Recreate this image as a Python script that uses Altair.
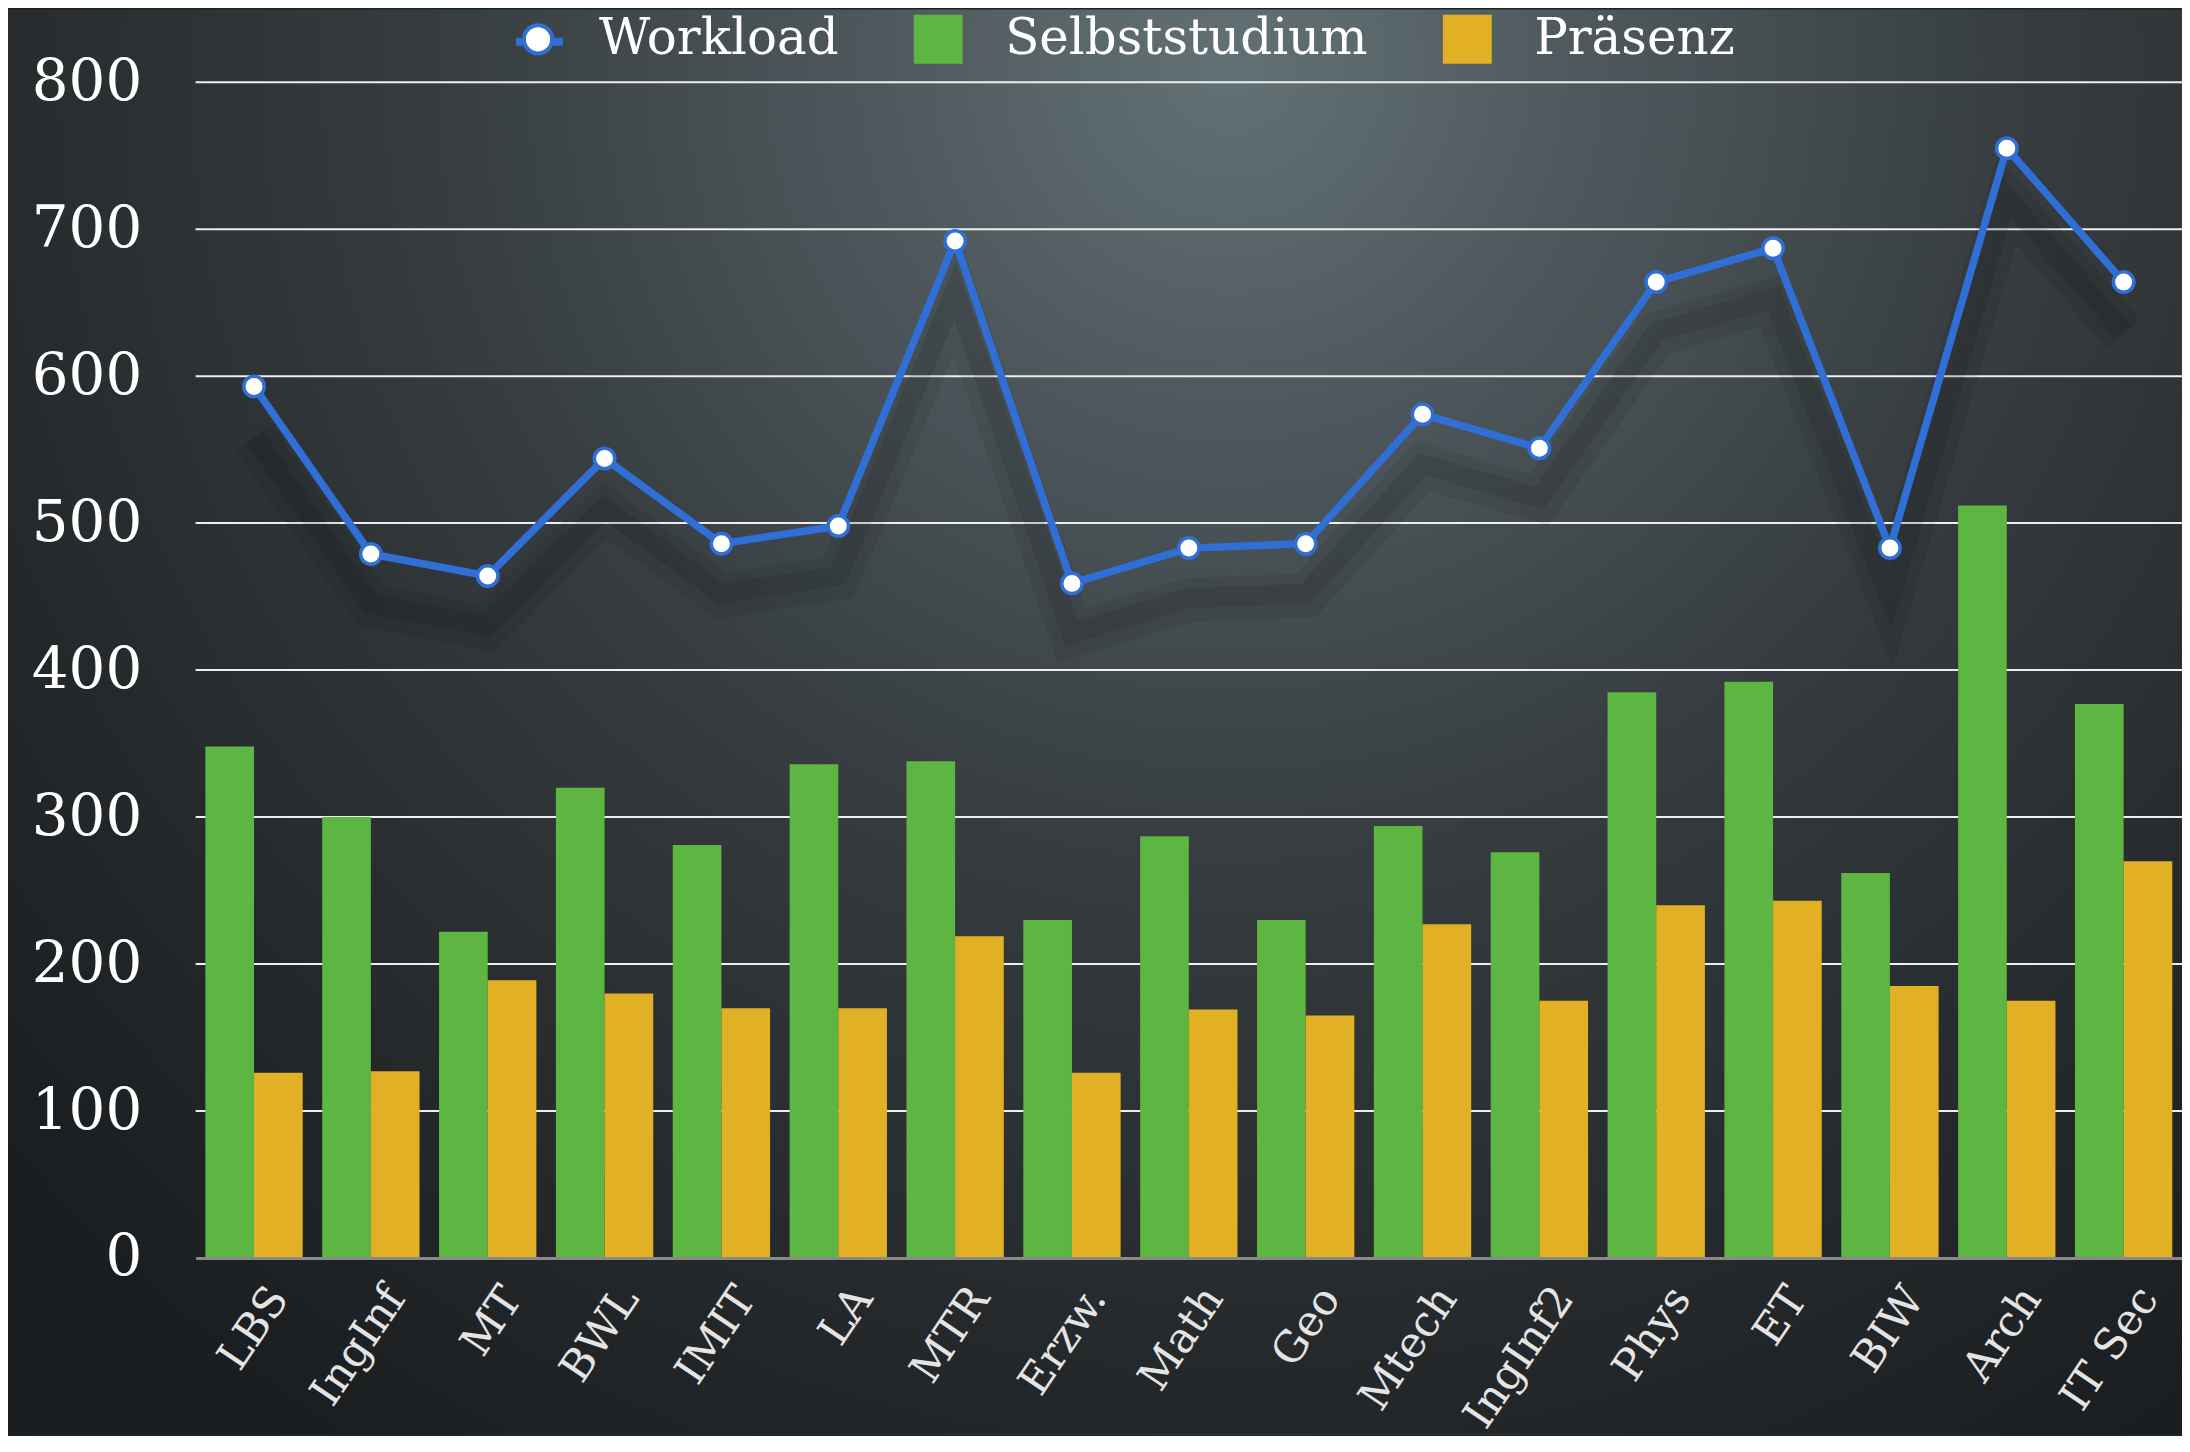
import altair as alt
import pandas as pd

# ---------------- data ----------------
categories = ["LBS", "IngInf", "MT", "BWL", "IMIT", "LA", "MTR", "Erzw.", "Math",
              "Geo", "Mtech", "IngInf2", "Phys", "ET", "BIW", "Arch", "IT Sec"]
selbststudium = [348, 300, 222, 320, 281, 336, 338, 230, 287, 230, 294, 276, 385, 392, 262, 512, 377]
praesenz = [126, 127, 189, 180, 170, 170, 219, 126, 169, 165, 227, 175, 240, 243, 185, 175, 270]
workload = [593, 479, 464, 544, 486, 498, 692, 459, 483, 486, 574, 551, 664, 687, 483, 755, 664]
bar_series = ["Selbststudium", "Präsenz"]
line_series = ["Workload"]
y_ticks = [0, 100, 200, 300, 400, 500, 600, 700, 800]
grid_values = [100, 200, 300, 400, 500, 600, 700, 800]

GREEN = "#5cb641"
YELLOW = "#e2b024"
BLUE = "#2f6fd6"
FONT = "DejaVu Serif"

W, H = 1990, 1178
PAD = {"left": 188, "top": 73, "right": 0, "bottom": 177}

bars_df = pd.DataFrame({
    "cat": categories + categories,
    "series": [bar_series[0]] * len(categories) + [bar_series[1]] * len(categories),
    "value": selbststudium + praesenz,
})
line_df = pd.DataFrame({"cat": categories, "series": line_series * len(categories), "value": workload})
grid_df = pd.DataFrame({"value": grid_values})
bg_df = pd.DataFrame({"k": [0]})

x_axis = alt.Axis(labelAngle=-56, labelFont=FONT, labelFontSize=43,
                  labelColor="#e4e4e4", ticks=False, domainColor="#8a8a8a", domainWidth=3,
                  labelPadding=33, labelOffset=25, labelAlign="right", labelBaseline="middle",
                  grid=False, zindex=1, labelLimit=0)
y_axis = alt.Axis(values=y_ticks, grid=False, domain=False, ticks=False, labelFont=FONT,
                  labelFontSize=58, labelColor="white", labelPadding=54, zindex=1)

x_enc = alt.X("cat:N", sort=categories, title=None,
              scale=alt.Scale(paddingInner=0.167, paddingOuter=0.083), axis=x_axis)
y_scale = alt.Scale(domain=[0, 800], nice=False)
y_enc = alt.Y("value:Q", scale=y_scale, title=None, axis=y_axis)

bg = alt.Chart(bg_df).mark_rect(
    fill={"gradient": "radial", "x1": 0.56, "y1": 0.2, "r1": 0, "x2": 0.56, "y2": 0.2, "r2": 0.75,
          "stops": [{"offset": 0, "color": "#627175"},
                    {"offset": 0.22, "color": "#4e585c"},
                    {"offset": 0.5, "color": "#353b3e"},
                    {"offset": 0.8, "color": "#24282a"},
                    {"offset": 1, "color": "#1b1e20"}]}
).encode(x=alt.value(-PAD["left"]), x2=alt.value(W + 10), y=alt.value(-PAD["top"]), y2=alt.value(H + PAD["bottom"]))

grid = alt.Chart(grid_df).mark_rule(color="#eeeeee", strokeWidth=2).encode(y=y_enc)

shadow1 = alt.Chart(line_df).mark_line(color="black", strokeWidth=44, opacity=0.07, yOffset=52).encode(x=x_enc, y=y_enc)
shadow2 = alt.Chart(line_df).mark_line(color="black", strokeWidth=20, opacity=0.09, yOffset=50).encode(x=x_enc, y=y_enc)

bars = alt.Chart(bars_df).mark_bar().encode(
    x=x_enc,
    xOffset=alt.XOffset("series:N", sort=bar_series),
    y=y_enc,
    fill=alt.Fill("series:N", title=None,
                  scale=alt.Scale(domain=bar_series, range=[GREEN, YELLOW]),
                  legend=alt.Legend(orient="none", legendX=719, legendY=-68, direction="horizontal",
                                    columns=2, symbolType="square", symbolSize=2401, symbolStrokeWidth=0,
                                    symbolOpacity=1, labelFont=FONT, labelFontSize=50, labelColor="white",
                                    labelOffset=42, columnPadding=74, padding=0, labelLimit=0)),
)

line = alt.Chart(line_df).mark_line(strokeWidth=7.5).encode(
    x=x_enc, y=y_enc,
    color=alt.Color("series:N", title=None,
                    scale=alt.Scale(domain=line_series, range=[BLUE]),
                    legend=alt.Legend(orient="none", legendX=317, legendY=-68, symbolType="stroke",
                                      symbolSize=2209, symbolStrokeWidth=8, symbolOpacity=1,
                                      labelFont=FONT, labelFontSize=50, labelColor="transparent",
                                      labelExpr="''", labelOffset=30, padding=0, labelLimit=0, zindex=1)),
)

points = alt.Chart(line_df).mark_point(shape="circle", filled=True, fill="white", size=420,
                                       strokeWidth=3.5, opacity=1).encode(
    x=x_enc, y=y_enc,
    stroke=alt.Stroke("series:N", title=None,
                      scale=alt.Scale(domain=line_series, range=[BLUE]),
                      legend=alt.Legend(orient="none", legendX=318, legendY=-68, symbolType="circle",
                                        symbolSize=800, symbolStrokeWidth=4, symbolFillColor="white",
                                        symbolOpacity=1, labelFont=FONT, labelFontSize=50,
                                        labelColor="white", labelOffset=36, padding=0, labelLimit=0,
                                        zindex=2)),
)

chart = alt.layer(bg, grid, shadow1, shadow2, bars, line, points).resolve_scale(
    fill="independent", stroke="independent", color="independent"
).properties(
    width=W, height=H, padding=PAD, autosize=alt.AutoSizeParams(type="none")
).configure(background="#1e2224").configure_view(stroke="transparent")

chart.save("out.html", embed_options={"renderer": "svg", "actions": False})
